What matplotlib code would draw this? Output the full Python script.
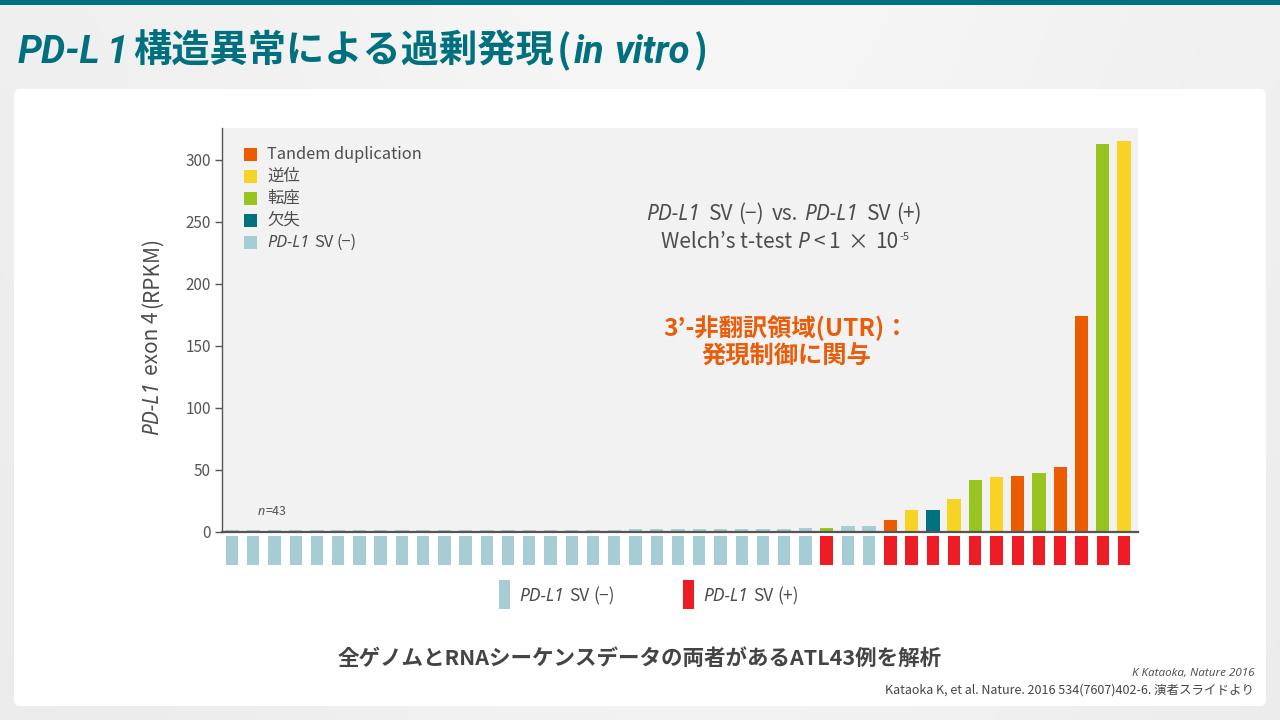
import matplotlib
matplotlib.use("Agg")
import matplotlib.pyplot as plt
import numpy as np
from matplotlib.patches import Rectangle, FancyBboxPatch
from matplotlib.transforms import IdentityTransform

plt.rcParams['font.family'] = ['Noto Sans CJK JP', 'DejaVu Sans']

# ---------------- data ----------------
values = [1.6, 1.6, 1.6, 1.6, 1.6, 1.6, 1.6, 1.6, 1.6, 1.6,
          1.6, 1.6, 1.6, 1.6, 1.6, 1.6, 1.6, 1.6, 1.6,
          2.4, 2.4, 2.4, 2.4, 2.4, 2.4, 2.4, 2.4,
          3.2, 3.2, 4.8, 4.8, 9.7, 17.7, 17.7, 26.6, 42.0,
          44.0, 45.0, 47.6, 52.4, 174.0, 313.0, 315.0]
sv_types = ['none', 'none', 'none', 'none', 'none', 'none', 'none', 'none', 'none', 'none',
            'none', 'none', 'none', 'none', 'none', 'none', 'none', 'none', 'none', 'none',
            'none', 'none', 'none', 'none', 'none', 'none', 'none', 'none',
            'trans', 'none', 'none', 'tandem', 'inv', 'del', 'inv', 'trans', 'inv',
            'tandem', 'trans', 'tandem', 'tandem', 'trans', 'inv']
type_order = ['tandem', 'inv', 'trans', 'del', 'none']
type_labels = {'tandem': 'Tandem duplication', 'inv': '逆位', 'trans': '転座', 'del': '欠失', 'none': 'PD-L1 SV(−)'}
yticks = [0, 50, 100, 150, 200, 250, 300]

type_colors = {'tandem': '#EB5C00', 'inv': '#F7D323', 'trans': '#97C41E',
               'del': '#00727F', 'none': '#A5CDD3'}
SV_NEG = '#A5CDD3'
SV_POS = '#EE1C25'
TEAL = '#00707F'
GRAY = '#4D4D4D'
LAT = ['Noto Sans', 'DejaVu Sans']
LATB = ['Roboto', 'Noto Sans', 'DejaVu Sans']

W, H = 1280, 720
fig = plt.figure(figsize=(W / 100, H / 100), dpi=100)
fig.patch.set_facecolor('#EEEEEE')


def fx(px):
    return px / W


def fy(py):
    return 1 - py / H


# background gradient
bg = fig.add_axes([0, 0, 1, 1], zorder=-10)
xx = np.linspace(0, 1, 256)
yy = np.linspace(0, 1, 144)
X, Y = np.meshgrid(xx, yy)
g = 0.935 + 0.03 * np.exp(-((X - 0.55) ** 2) / 0.15) - 0.015 * Y
bg.imshow(np.dstack([g, g, g]), extent=[0, 1, 0, 1], aspect='auto', origin='upper')
bg.set_axis_off()

# top stripe
fig.add_artist(Rectangle((0, H - 5), W, 5, transform=IdentityTransform(),
                         facecolor=TEAL, edgecolor='none', zorder=1))
# white card
fig.add_artist(FancyBboxPatch((14, H - 706), 1252, 617, boxstyle='round,pad=0,rounding_size=6',
                              transform=IdentityTransform(), facecolor='white', edgecolor='none', zorder=0))


def pieces_text(x, y, pieces, ha='left', rotation=0, **common):
    r = fig.canvas.get_renderer()
    widths = []
    for item in pieces:
        if not isinstance(item, tuple):
            widths.append(item)
            continue
        s, kw = item
        kw2 = dict(common)
        kw2.update(kw)
        kw2.pop('dy', None)
        t = fig.text(0, 0, s, **kw2)
        widths.append(t.get_window_extent(r).width)
        t.remove()
    total = sum(widths)
    cur = -{'left': 0, 'center': total / 2, 'right': total}[ha]
    for item, w in zip(pieces, widths):
        if isinstance(item, tuple):
            s, kw = item
            kw2 = dict(common)
            kw2.update(kw)
            dy = kw2.pop('dy', 0)
            if rotation == 0:
                px, py = x + cur, y - dy
            else:
                px, py = x - dy, y - cur
            fig.text(fx(px), fy(py), s, ha='left', va='baseline', rotation=rotation,
                     rotation_mode='anchor', zorder=5, **kw2)
        cur += w


# title
TB = dict(family=LATB, style='italic', weight='bold')
pieces_text(18, 63, [("PD-L", TB), 6, ("1", TB), 5,
                     ("構造異常による過剰発現", dict(weight='bold')), 3,
                     ("(", dict(weight='bold')), 3,
                     ("in", TB), 10, ("vitro", TB), 3,
                     (")", dict(weight='bold'))],
            fontsize=27.5, color=TEAL)

# main axes
ax = fig.add_axes([fx(222), fy(532), fx(1138) - fx(222), fy(128) - fy(532)])
ax.set_facecolor('#F2F2F2')
xpos = np.arange(len(values))
ax.bar(xpos, values, width=0.63, color=[type_colors[t] for t in sv_types], zorder=2)
ax.set_xlim(-0.47, 42.66)
ax.set_ylim(0, 325.8)
for s in ['top', 'right']:
    ax.spines[s].set_visible(False)
ax.spines['left'].set_color('#555555')
ax.spines['left'].set_linewidth(1.0)
ax.spines['bottom'].set_color('#555555')
ax.spines['bottom'].set_linewidth(1.6)
ax.spines['bottom'].set_zorder(3)
ax.set_xticks([])
ax.set_yticks(yticks)
ax.tick_params(axis='y', length=5, width=1, colors='#555555', labelsize=11, pad=3)
for lab in ax.get_yticklabels():
    lab.set_color('#555555')

# SV status strip
ax2 = fig.add_axes([fx(222), fy(565), fx(1138) - fx(222), fy(536) - fy(565)])
strip_colors = [SV_NEG if t == 'none' else SV_POS for t in sv_types]
ax2.bar(xpos, np.ones(len(values)), width=0.58, color=strip_colors)
ax2.set_xlim(-0.47, 42.66)
ax2.set_ylim(0, 1)
ax2.set_axis_off()

# y label
pieces_text(158, 336, [("PD-L1", dict(family=LAT, style='italic')), 6,
                       ("exon 4", {}), 3, ("(RPKM)", {})],
            ha='center', rotation=90, fontsize=15, color=GRAY)

# top-left legend
row_y = [154, 176, 198, 220, 242]
for t, yc in zip(type_order, row_y):
    fig.add_artist(Rectangle((244, H - yc - 6.5), 13, 13, transform=IdentityTransform(),
                             facecolor=type_colors[t], edgecolor='none', zorder=5))
    if t == 'none':
        pcs = [("PD-L1", dict(family=LAT, style='italic')), 5, ("SV", {}), 3, ("(−)", {})]
    else:
        pcs = [(type_labels[t], {})]
    pieces_text(267, yc + 5, pcs, fontsize=11.8, color=GRAY)

# n=43
pieces_text(258, 515, [("n", dict(family=LAT, style='italic')), ("=43", {})], fontsize=9, color='#555555')

# statistics annotation
pieces_text(784, 220, [("PD-L1", dict(family=LAT, style='italic')), 9, ("SV", {}), 5, ("(−)", {}), 8, ("vs.", {}), 6,
                       ("PD-L1", dict(family=LAT, style='italic')), 9, ("SV", {}), 5, ("(+)", {})],
            ha='center', fontsize=15, color=GRAY)
pieces_text(785, 248, [("Welch’s t-test", {}), 5, ("P", dict(family=LAT, style='italic')), 4, ("<", {}), 4,
                       ("1", {}), 7, ("×", {}), 7, ("10", {}), 1, ("-5", dict(fontsize=8, dy=8))],
            ha='center', fontsize=15, color=GRAY)

ORANGE = '#EB5C0A'
fig.text(fx(786), fy(328), "3’-非翻訳領域(UTR)：", ha='center', va='center', fontsize=17.5,
         weight='bold', color=ORANGE)
fig.text(fx(786), fy(357), "発現制御に関与", ha='center', va='center', fontsize=17.5,
         weight='bold', color=ORANGE)

# bottom legend
for x0, col, lab in [(499, SV_NEG, "(−)"), (683, SV_POS, "(+)")]:
    fig.add_artist(Rectangle((x0, H - 609), 11, 29, transform=IdentityTransform(),
                             facecolor=col, edgecolor='none', zorder=5))
    pieces_text(x0 + 20, 601, [("PD-L1", dict(family=LAT, style='italic')), 5, ("SV", {}), 4, (lab, {})],
                fontsize=12.5, color=GRAY)

# caption and references
fig.text(fx(640), fy(658), "全ゲノムとRNAシーケンスデータの両者があるATL43例を解析", ha='center', va='center',
         fontsize=15.5, weight='bold', color='#444444')
pieces_text(1254, 676, [("K Kataoka, Nature 2016", dict(family=LAT, style='italic'))], ha='right',
            fontsize=8.4, color='#555555')
fig.text(fx(1254), fy(690), "Kataoka K, et al. Nature. 2016 534(7607)402-6. 演者スライドより", ha='right',
         va='center', fontsize=9, color='#444444')

fig.savefig('out.png', dpi=100, facecolor=fig.get_facecolor())
